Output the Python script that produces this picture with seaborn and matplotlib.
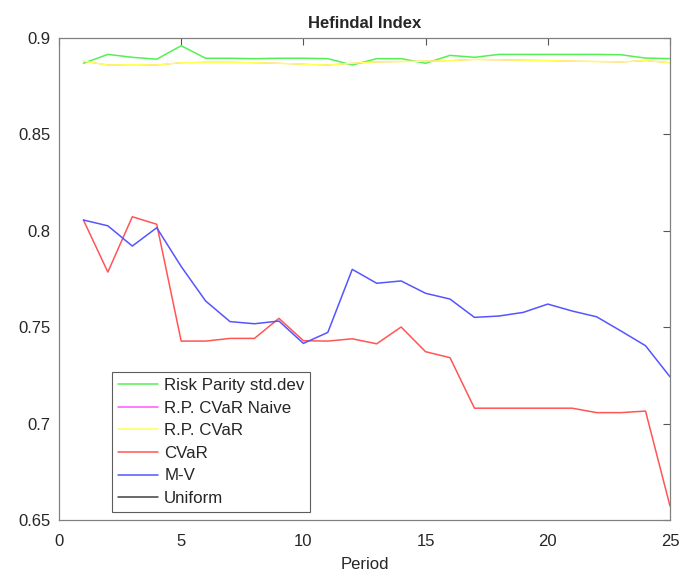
import numpy as np
import pandas as pd
import matplotlib
matplotlib.use("Agg")
import matplotlib.pyplot as plt
import seaborn as sns

periods = list(range(1, 26))

rp_std = [0.8869, 0.8915, 0.8900, 0.8890, 0.8960, 0.8895, 0.8895, 0.8893, 0.8895, 0.8895,
          0.8893, 0.8860, 0.8893, 0.8893, 0.8869, 0.8910, 0.8900, 0.8915, 0.8915, 0.8915,
          0.8915, 0.8915, 0.8913, 0.8896, 0.8893]
rp_cvar = [0.8880, 0.8860, 0.8862, 0.8860, 0.8872, 0.8874, 0.8874, 0.8872, 0.8869, 0.8864,
           0.8860, 0.8869, 0.8876, 0.8878, 0.8880, 0.8883, 0.8889, 0.8887, 0.8885, 0.8883,
           0.8880, 0.8878, 0.8876, 0.8883, 0.8872]
rp_cvar_naive = list(rp_cvar)
cvar = [0.8056, 0.7786, 0.8073, 0.8034, 0.7428, 0.7428, 0.7442, 0.7442, 0.7546, 0.7430,
        0.7428, 0.7440, 0.7414, 0.7501, 0.7373, 0.7342, 0.7080, 0.7080, 0.7080, 0.7080,
        0.7080, 0.7057, 0.7057, 0.7065, 0.6573]
mv = [0.8056, 0.8026, 0.7921, 0.8016, 0.7815, 0.7636, 0.7529, 0.7518, 0.7532, 0.7416,
      0.7473, 0.7800, 0.7728, 0.7740, 0.7676, 0.7646, 0.7551, 0.7558, 0.7577, 0.7620,
      0.7584, 0.7554, 0.7480, 0.7404, 0.7243]
uniform = [0.9091] * 25

series = ["Risk Parity std.dev", "R.P. CVaR Naive", "R.P. CVaR", "CVaR", "M-V", "Uniform"]
values = [rp_std, rp_cvar_naive, rp_cvar, cvar, mv, uniform]
colors = ["#55f055", "#ff55ff", "#ffff55", "#ff5555", "#5555ff", "#404040"]

df = pd.DataFrame({
    "Period": periods * len(series),
    "Index": sum(values, []),
    "Strategy": np.repeat(series, len(periods)),
})

sns.set_style("white")
plt.rcParams["font.family"] = ["Liberation Sans", "DejaVu Sans"]

fig = plt.figure(figsize=(6.81, 5.76), dpi=100)
ax = fig.add_axes([0.0866, 0.0972, 0.8972, 0.8368])

sns.lineplot(data=df, x="Period", y="Index", hue="Strategy", hue_order=series,
             palette=dict(zip(series, colors)), linewidth=1.1, ax=ax)
# naive line sits under the R.P. CVaR line; keep it thinner so it stays hidden
ax.get_lines()[1].set_linewidth(0.7)

ax.set_xlim(0, 25)
ax.set_ylim(0.65, 0.9)
ax.set_xticks([0, 5, 10, 15, 20, 25])
ax.set_yticks([0.65, 0.7, 0.75, 0.8, 0.85, 0.9])
ax.set_yticklabels(["0.65", "0.7", "0.75", "0.8", "0.85", "0.9"])
ax.tick_params(direction="in", top=True, right=True, length=5, width=0.8,
               color="#555555", labelsize=12, labelcolor="#262626", pad=6)
ax.tick_params(axis="x", pad=10)
for s in ax.spines.values():
    s.set_color("#808080")
    s.set_linewidth(0.9)

ax.set_title("Hefindal Index", fontsize=12, fontweight="bold", pad=7)
ax.set_xlabel("Period", fontsize=12, labelpad=6)
ax.set_ylabel("")

leg = ax.legend(loc="lower left", bbox_to_anchor=(0.0862, 0.0166), borderaxespad=0,
                fontsize=12.2, frameon=True, fancybox=False, handlelength=2.4,
                borderpad=0.35, labelspacing=0.45, handletextpad=0.35)
leg.get_frame().set_edgecolor("#333333")
leg.get_frame().set_linewidth(0.8)
for h in leg.get_lines():
    h.set_linewidth(1.1)

fig.savefig("out.png", dpi=100)
